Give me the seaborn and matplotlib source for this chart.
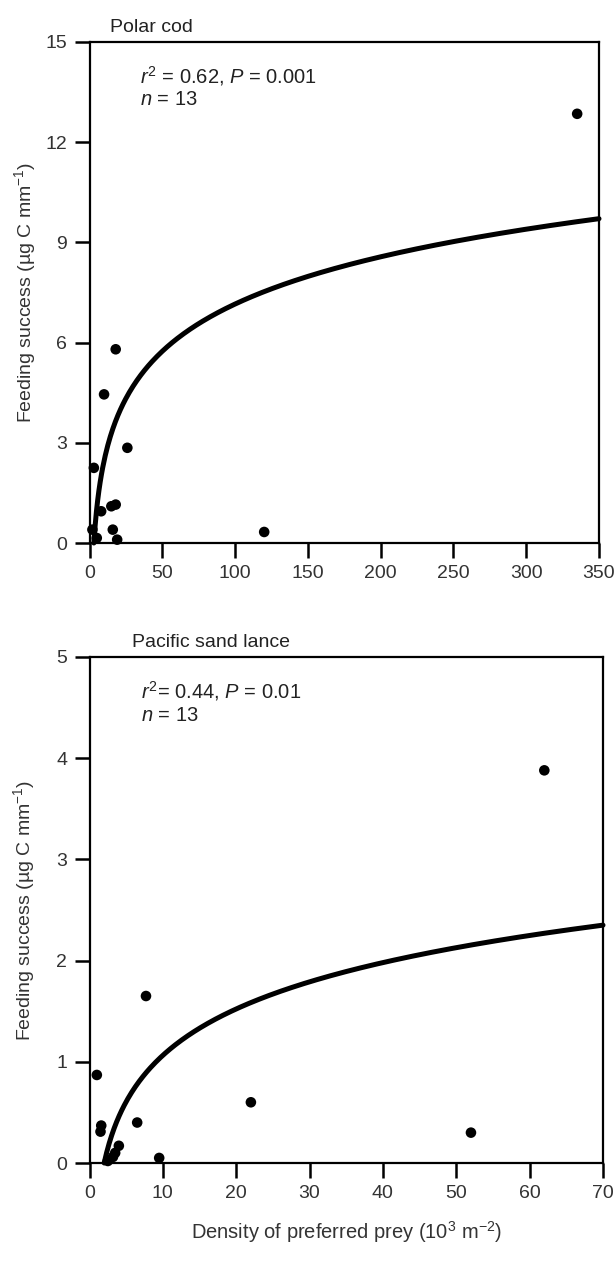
import numpy as np
import pandas as pd
import matplotlib.pyplot as plt
import seaborn as sns

# values
cod_density = [335, 120, 26, 18, 10, 3, 15, 18, 8, 16, 19, 5, 2]
cod_feeding = [12.85, 0.33, 2.85, 5.8, 4.45, 2.25, 1.1, 1.15, 0.95, 0.4, 0.1, 0.15, 0.4]
cod_fit = (-2.24, 2.04)          # y = a + b*ln(x)
cod_stats = ["$r^2$ = 0.62, $P$ = 0.001", "$n$ = 13"]

lance_density = [62, 7.7, 1.0, 22, 52, 9.5, 6.5, 1.6, 1.5, 4.0, 3.5, 3.2, 2.5]
lance_feeding = [3.88, 1.65, 0.87, 0.6, 0.3, 0.05, 0.4, 0.37, 0.31, 0.17, 0.1, 0.06, 0.02]
lance_fit = (-0.458, 0.661)
lance_stats = ["$r^2$= 0.44, $P$ = 0.01", "$n$ = 13"]

sns.set_theme(style="ticks")
plt.rcParams['font.family'] = ['Liberation Sans', 'DejaVu Sans']
plt.rcParams['mathtext.fontset'] = 'custom'
plt.rcParams['mathtext.rm'] = 'Liberation Sans'
plt.rcParams['mathtext.it'] = 'Liberation Sans:italic'
plt.rcParams['axes.edgecolor'] = 'black'
plt.rcParams['xtick.color'] = 'black'
plt.rcParams['ytick.color'] = 'black'
plt.rcParams['text.color'] = '#222222'

W, H = 615, 1263
fig = plt.figure(figsize=(W / 100, H / 100), dpi=100)
ax1 = fig.add_axes([89.5 / W, 1 - 543 / H, (599 - 89.5) / W, (543 - 42) / H])
ax2 = fig.add_axes([89.5 / W, 1 - 1163 / H, (603 - 89.5) / W, (1163 - 657) / H])

panels = [
    (ax1, cod_density, cod_feeding, cod_fit, cod_stats, "Polar cod",
     350, 50, 15, 3, 21),
    (ax2, lance_density, lance_feeding, lance_fit, lance_stats, "Pacific sand lance",
     70, 10, 5, 1, 42),
]

for ax, xs, ys, fit, stats, title, xmax, xstep, ymax, ystep, title_dx in panels:
    df = pd.DataFrame({'density': xs, 'feeding': ys})
    a, b = fit
    x0 = np.exp(-a / b)
    grid = np.linspace(x0, xmax, 400)
    curve = pd.DataFrame({'density': grid, 'feeding': a + b * np.log(grid)})

    sns.lineplot(data=curve, x='density', y='feeding', color='black', lw=3.6,
                 ax=ax, clip_on=False)
    sns.scatterplot(data=df, x='density', y='feeding', color='black', s=58,
                    edgecolor='none', ax=ax, clip_on=False, zorder=5)

    ax.set_xlim(0, xmax)
    ax.set_ylim(0, ymax)
    ax.set_xticks(np.arange(0, xmax + 1, xstep))
    ax.set_yticks(np.arange(0, ymax + 1, ystep))
    for s in ax.spines.values():
        s.set_linewidth(1.6)
        s.set_visible(True)
    ax.tick_params(direction='out', length=11, width=1.8, labelsize=14, pad=5,
                   labelcolor='#333333')
    ax.set_ylabel("Feeding success (µg C mm$^{-1}$)", fontsize=14, color='#333333')
    ax.yaxis.set_label_coords(-0.102, 0.5)
    ax.set_xlabel("")

    ax.text(title_dx / (ax.bbox.width), 1.012, title, transform=ax.transAxes,
            fontsize=14, ha='left', va='bottom', color='#222222')
    ax.text(0.1, 0.918, stats[0], transform=ax.transAxes, fontsize=14.5,
            ha='left', va='baseline')
    ax.text(0.1, 0.874, stats[1], transform=ax.transAxes, fontsize=14.5,
            ha='left', va='baseline')

ax2.set_xlabel("Density of preferred prey (10$^3$ m$^{-2}$)", fontsize=14.5,
               color='#333333', labelpad=12)

fig.savefig("out.png", dpi=100, facecolor='white')
